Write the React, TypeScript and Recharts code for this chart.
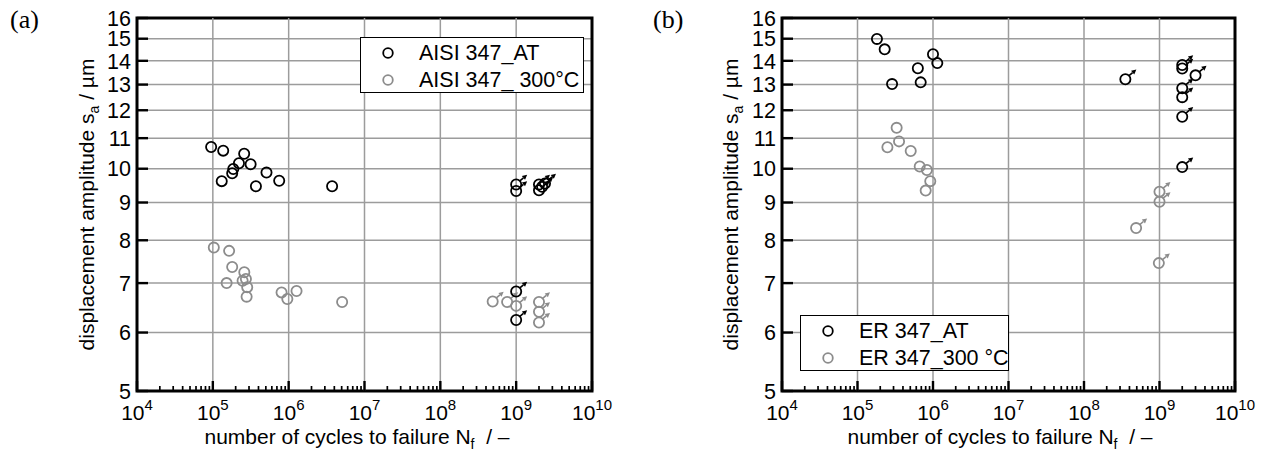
import React from 'react';
import { ScatterChart, Scatter, XAxis, YAxis, CartesianGrid, ReferenceLine, ReferenceArea } from 'recharts';

const FONT = '"Liberation Sans", Arial, Helvetica, sans-serif';
const SERIF = '"Liberation Serif", "Times New Roman", serif';
const BLACK = '#000000';
const GRAY = '#8c8c8c';
const GRID = '#9c9c9c';

// axes
const xDecades = [1e4, 1e5, 1e6, 1e7, 1e8, 1e9, 1e10];
const xMinorFactors = [2, 3, 4, 5, 6, 7, 8, 9];
const yTicks = [5, 6, 7, 8, 9, 10, 11, 12, 13, 14, 15, 16];
const xDomain = [1e4, 1e10];
const yDomain = [5, 16];

// panel (a) AISI 347
const aisiAtFailN = [9.5e4, 1.37e5, 1.31e5, 1.8e5, 1.86e5, 2.21e5, 2.59e5, 3.15e5, 3.7e5, 5.1e5, 7.5e5, 3.74e6];
const aisiAtFailSa = [10.7, 10.58, 9.62, 9.86, 9.99, 10.17, 10.48, 10.14, 9.47, 9.88, 9.63, 9.47];
const aisiAtRunN = [1e9, 1e9, 2e9, 2e9, 2.2e9, 2.4e9, 1e9, 1e9];
const aisiAtRunSa = [9.52, 9.33, 9.52, 9.35, 9.45, 9.55, 6.82, 6.24];
const aisi300FailN = [1.03e5, 1.64e5, 1.8e5, 1.52e5, 2.6e5, 2.47e5, 2.73e5, 2.84e5, 2.79e5, 8.06e5, 9.6e5, 1.27e6, 5.07e6];
const aisi300FailSa = [7.82, 7.74, 7.36, 7.0, 7.24, 7.05, 7.09, 6.91, 6.71, 6.8, 6.66, 6.83, 6.6];
const aisi300RunN = [4.9e8, 7.6e8, 1e9, 2e9, 2e9, 2e9];
const aisi300RunSa = [6.61, 6.6, 6.52, 6.6, 6.4, 6.19];

// panel (b) ER 347
const erAtFailN = [1.81e5, 2.29e5, 2.87e5, 6.3e5, 6.87e5, 1e6, 1.14e6];
const erAtFailSa = [14.99, 14.51, 13.02, 13.68, 13.09, 14.29, 13.9];
const erAtRunN = [3.53e8, 2e9, 2e9, 3e9, 2e9, 2e9, 2e9, 2e9];
const erAtRunSa = [13.22, 13.82, 13.67, 13.38, 12.85, 12.5, 11.76, 10.05];
const er300FailN = [2.49e5, 3.3e5, 3.55e5, 5.07e5, 6.67e5, 8.3e5, 9.2e5, 8.0e5];
const er300FailSa = [10.69, 11.36, 10.89, 10.57, 10.07, 9.96, 9.62, 9.34];
const er300RunN = [1e9, 1e9, 4.9e8, 9.8e8];
const er300RunSa = [9.31, 9.02, 8.31, 7.45];

const legendA = ['AISI 347_AT', 'AISI 347_ 300°C'];
const legendB = ['ER 347_AT', 'ER 347_300 °C'];

const zip = (n: number[], s: number[]) => n.map((v, i) => ({ n: v, s: s[i] }));

const xTicks: number[] = [];
xDecades.forEach((d, i) => {
  xTicks.push(d);
  if (i < xDecades.length - 1) xMinorFactors.forEach((m) => xTicks.push(d * m));
});

const R = 5.1;

const circleShape = (color: string) => (p: any) => {
  const { cx, cy } = p;
  if (cx == null || cy == null) return <g />;
  return <circle cx={cx} cy={cy} r={R} fill="none" stroke={color} strokeWidth={1.8} />;
};

const runoutShape = (color: string) => (p: any) => {
  const { cx, cy } = p;
  if (cx == null || cy == null) return <g />;
  const sx = cx + R * 0.72;
  const sy = cy - R * 0.7;
  const ux = 0.77;
  const uy = -0.64;
  const L = 9.5;
  const tx = sx + ux * L;
  const ty = sy + uy * L;
  const hl = 4.8;
  const hw = 2.5;
  const bx = tx - ux * hl;
  const by = ty - uy * hl;
  const px = -uy;
  const py = ux;
  return (
    <g>
      <circle cx={cx} cy={cy} r={R} fill="none" stroke={color} strokeWidth={1.8} />
      <line x1={sx} y1={sy} x2={bx} y2={by} stroke={color} strokeWidth={1.6} />
      <polygon points={`${tx},${ty} ${bx + px * hw},${by + py * hw} ${bx - px * hw},${by - py * hw}`} fill={color} />
    </g>
  );
};

const XTick = (props: any) => {
  const { x, y, payload } = props;
  const v = payload.value as number;
  const lg = Math.log10(v);
  const e = Math.round(lg);
  const major = Math.abs(lg - e) < 1e-6;
  return (
    <g>
      <line x1={x} x2={x} y1={y} y2={y - (major ? 10 : 5)} stroke={BLACK} strokeWidth={major ? 2.4 : 1.7} />
      {major && (
        <text x={x} y={y + 29} textAnchor="middle" fontFamily={FONT} fontSize={21} fill={BLACK}>
          10
          <tspan dy={-10} fontSize={15}>{e}</tspan>
        </text>
      )}
    </g>
  );
};

const YTick = (props: any) => {
  const { x, y, payload } = props;
  return (
    <g>
      <line x1={x} x2={x + 11} y1={y} y2={y} stroke={BLACK} strokeWidth={2.4} />
      <text x={x - 6} y={y} dy="0.36em" textAnchor="end" fontFamily={FONT} fontSize={21.5} fill={BLACK}>
        {payload.value}
      </text>
    </g>
  );
};

type Series = { data: { n: number; s: number }[]; color: string; runout: boolean };

const Panel = ({ left, width, yWidth, marginRight, series }: { left: number; width: number; yWidth: number; marginRight: number; series: Series[] }) => (
  <div style={{ position: 'absolute', left, top: 0 }}>
    <ScatterChart width={width} height={454} margin={{ top: 18, right: marginRight, bottom: 23, left: 0 }}>
      <CartesianGrid vertical={false} stroke={GRID} strokeWidth={1.5} />
      {xDecades.slice(1, -1).map((d) => (
        <ReferenceLine key={d} x={d} stroke={GRID} strokeWidth={1.5} />
      ))}
      <XAxis
        dataKey="n"
        type="number"
        scale="log"
        domain={xDomain}
        allowDataOverflow
        ticks={xTicks}
        interval={0}
        tick={<XTick />}
        tickLine={false}
        tickSize={0}
        tickMargin={0}
        axisLine={false}
        height={40}
      />
      <YAxis
        dataKey="s"
        type="number"
        scale="log"
        domain={yDomain}
        allowDataOverflow
        ticks={yTicks}
        interval={0}
        tick={<YTick />}
        tickLine={false}
        tickSize={0}
        tickMargin={0}
        axisLine={false}
        width={yWidth}
      />
      <ReferenceArea x1={xDomain[0]} x2={xDomain[1]} y1={yDomain[0]} y2={yDomain[1]} fill="none" fillOpacity={0} stroke={BLACK} strokeWidth={3} strokeOpacity={1} />
      {series.map((s, i) => (
        <Scatter
          key={i}
          data={s.data}
          isAnimationActive={false}
          shape={s.runout ? runoutShape(s.color) : circleShape(s.color)}
        />
      ))}
    </ScatterChart>
  </div>
);

const Legend = ({ left, top, width, labels, markerX, textX }: { left: number; top: number; width: number; labels: string[]; markerX: number; textX: number }) => (
  <div
    style={{
      position: 'absolute',
      left,
      top,
      width,
      height: 56,
      boxSizing: 'border-box',
      border: '1.5px solid #000',
      background: '#fff',
      fontFamily: FONT,
      fontSize: 21.5,
    }}
  >
    {labels.map((l, i) => (
      <div key={i} style={{ position: 'absolute', left: 0, top: 2 + i * 26.5, height: 26, width: '100%' }}>
        <svg width={20} height={26} style={{ position: 'absolute', left: markerX - 10, top: 0 }}>
          <circle cx={10} cy={13} r={4.8} fill="none" stroke={i === 0 ? BLACK : GRAY} strokeWidth={1.8} />
        </svg>
        <span style={{ position: 'absolute', left: textX, top: 0, lineHeight: '26px', whiteSpace: 'pre', color: '#000' }}>{l}</span>
      </div>
    ))}
  </div>
);

const YTitle = ({ x }: { x: number }) => (
  <text x={x} y={204.5} transform={`rotate(-90, ${x}, 204.5)`} textAnchor="middle" fontFamily={FONT} fontSize={21} fill={BLACK}>
    displacement amplitude s
    <tspan dy={5} fontSize={14}>a</tspan>
    <tspan dy={-5}> / µm</tspan>
  </text>
);

const XTitle = ({ x }: { x: number }) => (
  <text x={x} y={444} textAnchor="middle" fontFamily={FONT} fontSize={21} fill={BLACK}>
    number of cycles to failure N
    <tspan dy={5} fontSize={14}>f</tspan>
    <tspan dy={-5}>{'\u00a0 / –'}</tspan>
  </text>
);

export default function App() {
  const seriesA: Series[] = [
    { data: zip(aisi300FailN, aisi300FailSa), color: GRAY, runout: false },
    { data: zip(aisi300RunN, aisi300RunSa), color: GRAY, runout: true },
    { data: zip(aisiAtFailN, aisiAtFailSa), color: BLACK, runout: false },
    { data: zip(aisiAtRunN, aisiAtRunSa), color: BLACK, runout: true },
  ];
  const seriesB: Series[] = [
    { data: zip(er300FailN, er300FailSa), color: GRAY, runout: false },
    { data: zip(er300RunN, er300RunSa), color: GRAY, runout: true },
    { data: zip(erAtFailN, erAtFailSa), color: BLACK, runout: false },
    { data: zip(erAtRunN, erAtRunSa), color: BLACK, runout: true },
  ];
  return (
    <div style={{ position: 'absolute', left: 0, top: 0, width: 1264, height: 454, background: '#fff', overflow: 'hidden', fontFamily: FONT }}>
      <Panel left={0} width={640} yWidth={137} marginRight={48} series={seriesA} />
      <Panel left={640} width={624} yWidth={142} marginRight={29} series={seriesB} />
      <svg width={1264} height={454} style={{ position: 'absolute', left: 0, top: 0, pointerEvents: 'none' }}>
        <text x={10} y={28} fontFamily={SERIF} fontSize={26} fill={BLACK}>(a)</text>
        <text x={653} y={28} fontFamily={SERIF} fontSize={26} fill={BLACK}>(b)</text>
        <YTitle x={94} />
        <YTitle x={738} />
        <XTitle x={357} />
        <XTitle x={1000} />
      </svg>
      <Legend left={360} top={37} width={224} labels={legendA} markerX={27} textX={58} />
      <Legend left={800} top={315} width={209} labels={legendB} markerX={27} textX={58} />
    </div>
  );
}
